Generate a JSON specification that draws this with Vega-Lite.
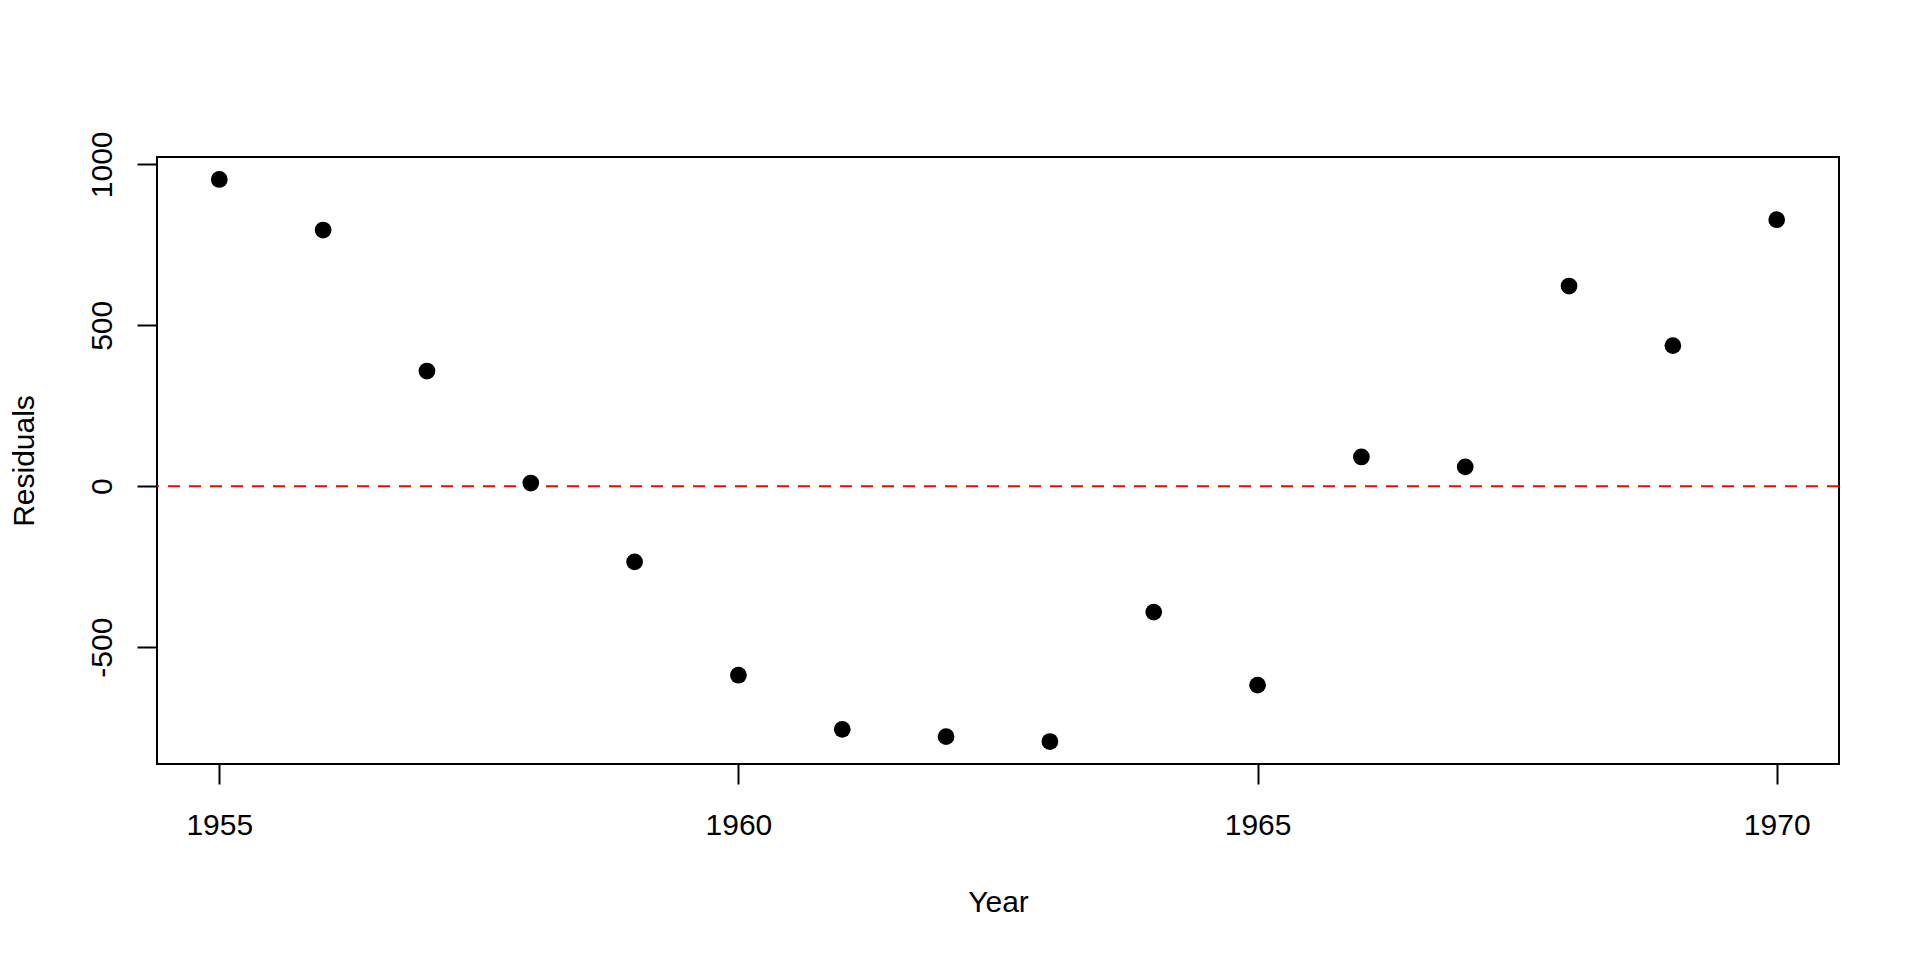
{
  "$schema": "https://vega.github.io/schema/vega-lite/v6.json",
  "width": 1682,
  "height": 607,
  "autosize": {"type": "none"},
  "padding": {"left": 157, "top": 157, "right": 81, "bottom": 196},
  "background": "white",
  "config": {
    "view": {"stroke": "black", "strokeWidth": 2},
    "font": "Liberation Sans"
  },
  "layer": [
    {
      "data": {"values": [{"Residuals": 0}]},
      "mark": {"type": "rule", "color": "#FF0000", "strokeWidth": 2, "strokeDash": [12, 9]},
      "encoding": {
        "y": {"field": "Residuals", "type": "quantitative", "title": "Residuals"}
      }
    },
    {
      "data": {
        "values": [
          {"Year": 1955, "Residuals": 953},
          {"Year": 1956, "Residuals": 796},
          {"Year": 1957, "Residuals": 358},
          {"Year": 1958, "Residuals": 10},
          {"Year": 1959, "Residuals": -235},
          {"Year": 1960, "Residuals": -587},
          {"Year": 1961, "Residuals": -755},
          {"Year": 1962, "Residuals": -778},
          {"Year": 1963, "Residuals": -793},
          {"Year": 1964, "Residuals": -391},
          {"Year": 1965, "Residuals": -618},
          {"Year": 1966, "Residuals": 91},
          {"Year": 1967, "Residuals": 60},
          {"Year": 1968, "Residuals": 622},
          {"Year": 1969, "Residuals": 437},
          {"Year": 1970, "Residuals": 828}
        ]
      },
      "mark": {"type": "point", "filled": true, "shape": "circle", "size": 280, "color": "black", "opacity": 1, "strokeWidth": 0},
      "encoding": {
        "x": {
          "field": "Year",
          "type": "quantitative",
          "title": "Year",
          "scale": {"domain": [1954.4, 1970.6], "nice": false, "zero": false},
          "axis": {
            "values": [1955, 1960, 1965, 1970],
            "labelExpr": "'' + datum.value",
            "grid": false,
            "domain": false,
            "tickSize": 20,
            "tickWidth": 2,
            "tickColor": "black",
            "labelFontSize": 30,
            "labelColor": "black",
            "labelPadding": 26,
            "labelBaseline": "top",
            "labelAlign": "center",
            "labelFlush": false,
            "labelOverlap": false,
            "titleFontSize": 30,
            "titleFontWeight": "normal",
            "titleColor": "black",
            "titleBaseline": "alphabetic",
            "titleAlign": "center",
            "titleX": 841,
            "titleY": 147.5
          }
        },
        "y": {
          "field": "Residuals",
          "type": "quantitative",
          "title": "Residuals",
          "scale": {"domain": [-862.8, 1022.8], "nice": false, "zero": false},
          "axis": {
            "values": [-500, 0, 500, 1000],
            "labelExpr": "'' + datum.value",
            "grid": false,
            "domain": false,
            "tickSize": 20,
            "tickWidth": 2,
            "tickColor": "black",
            "labelFontSize": 30,
            "labelColor": "black",
            "labelAngle": -90,
            "labelAlign": "center",
            "labelBaseline": "alphabetic",
            "labelPadding": 25.6,
            "labelFlush": false,
            "labelOverlap": false,
            "titleFontSize": 30,
            "titleFontWeight": "normal",
            "titleColor": "black",
            "titleAngle": -90,
            "titleBaseline": "alphabetic",
            "titleAlign": "center",
            "titleX": -124,
            "titleY": 303.5
          }
        }
      }
    }
  ]
}
